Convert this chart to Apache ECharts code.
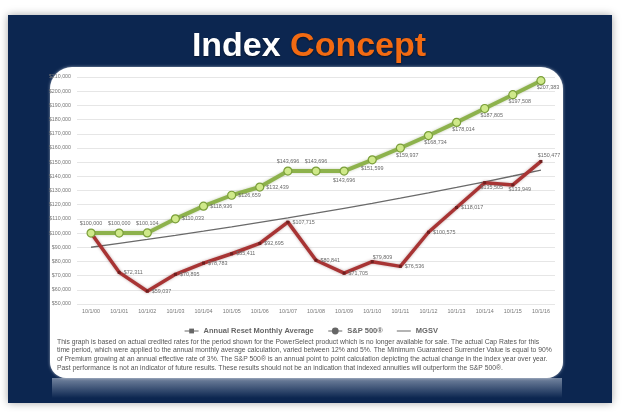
<!DOCTYPE html>
<html>
<head>
<meta charset="utf-8">
<script src="https://cdn.jsdelivr.net/npm/echarts@6/dist/echarts.min.js"></script>
<style>
html,body{margin:0;padding:0;background:#ffffff;}
#chart{width:622px;height:412px;}
</style>
</head>
<body>
<div id="chart"></div>
<script>
// ---- data ----
const categories = ['10/1/00','10/1/01','10/1/02','10/1/03','10/1/04','10/1/05','10/1/06','10/1/07','10/1/08','10/1/09','10/1/10','10/1/11','10/1/12','10/1/13','10/1/14','10/1/15','10/1/16'];
const annualReset = [100000, 72311, 59037, 70895, 78783, 85411, 92695, 107715, 80841, 71705, 79809, 76536, 100575, 118017, 135505, 133949, 150477];
const sp500 = [100000, 100000, 100104, 110033, 118936, 126659, 132439, 143696, 143696, 143696, 151599, 159937, 168734, 178014, 187805, 197508, 207383];
const mgsv = [90000, 92700, 95481, 98345, 101296, 104335, 107465, 110689, 114009, 117430, 120952, 124581, 128318, 132168, 136133, 140217, 144424];
const yMin = 50000, yMax = 210000, yStep = 10000;
const seriesNames = ['Annual Reset Monthly Average', 'S&P 500®', 'MGSV'];

// label placement keys (one per point)
const resetLabelPos = ['none','r','r','r','r','r','r','r','r','r','tr','r','r','r','br','br','tr2'];
const spLabelPos = ['t','t','t','r','r','r','r','t','t','b','b','br','br','br','br','br','br'];
const mgsvLabelPos = ['t','none','none','none','none','none','none','none','none','none','none','none','none','none','none','none','br'];

const titleLines = ['Index ', 'Concept'];
const footnote = [
  'This graph is based on actual credited rates for the period shown for the PowerSelect product which is no longer available for sale. The actual Cap Rates for this',
  'time period, which were applied to the annual monthly average calculation, varied between 12% and 5%. The Minimum Guaranteed Surrender Value is equal to 90%',
  'of Premium growing at an annual effective rate of 3%. The S&P 500® is an annual point to point calculation depicting the actual change in the index year over year.',
  'Past performance is not an indicator of future results. These results should not be an indication that indexed annuities will outperform the S&P 500®.'
];

// ---- helpers ----
const money = v => '$' + Math.round(v).toLocaleString('en-US');
function labelCfg(key, dist) {
  const base = {show: true, fontSize: 5.4, color: '#6a6a6a', fontFamily: 'Liberation Sans, Arial, sans-serif', distance: dist, formatter: p => money(p.value)};
  switch (key) {
    case 'none': return {show: false};
    case 't': return Object.assign(base, {position: 'top', distance: 2});
    case 'b': return Object.assign(base, {position: 'bottom', distance: 2});
    case 'r': return Object.assign(base, {position: 'right'});
    case 'tr': return Object.assign(base, {position: 'right', offset: [-4, -4]});
    case 'tr2': return Object.assign(base, {position: 'top', offset: [8, 1]});
    case 'br': return Object.assign(base, {position: 'bottom', offset: [7, -2]});
  }
}
const build = (vals, keys, dist) => vals.map((v, i) => ({value: v, label: labelCfg(keys[i], dist)}));

const chart = echarts.init(document.getElementById('chart'), null, {renderer: 'canvas'});
const font = 'Liberation Sans, Arial, sans-serif';

const graphics = [
  // navy panel
  {type: 'rect', z: -30, shape: {x: 8, y: 15, width: 604, height: 388},
   style: {fill: '#0c2650', shadowBlur: 8, shadowColor: 'rgba(0,0,0,0.35)'}},
  // reflection
  {type: 'rect', z: -25, shape: {x: 52, y: 378, width: 510, height: 20},
   style: {fill: {type: 'linear', x: 0, y: 0, x2: 0, y2: 1, colorStops: [
     {offset: 0, color: 'rgba(200,210,225,0.55)'}, {offset: 1, color: 'rgba(200,210,225,0)'}]}}},
  {type: 'text', z: -24, x: 57, y: 386, scaleY: -1, originY: 386,
   style: {text: footnote[3], fontSize: 6.9, fill: 'rgba(20,40,70,0.35)', fontFamily: font, verticalAlign: 'middle'}},
  // white panel
  {type: 'rect', z: -20, shape: {x: 50, y: 67, width: 513, height: 311, r: [22, 22, 16, 16]},
   style: {fill: '#ffffff', shadowBlur: 3, shadowColor: 'rgba(255,255,255,0.6)'}},
  // title
  {type: 'text', z: 10, x: 309, y: 47,
   style: {text: '{a|' + titleLines[0] + '}{b|' + titleLines[1] + '}', align: 'center', verticalAlign: 'middle',
     rich: {
       a: {fill: '#ffffff', fontSize: 34, fontWeight: 'bold', fontFamily: font, textShadowColor: 'rgba(0,0,0,0.5)', textShadowBlur: 2, textShadowOffsetY: 1},
       b: {fill: '#f26a12', fontSize: 34, fontWeight: 'bold', fontFamily: font, textShadowColor: 'rgba(0,0,0,0.5)', textShadowBlur: 2, textShadowOffsetY: 1}
     }}}
];
footnote.forEach((line, i) => {
  graphics.push({type: 'text', z: 10, x: 57, y: 342 + i * 8.6,
    style: {text: line, fontSize: 6.8, fill: '#555555', fontFamily: font, verticalAlign: 'middle'}});
});

const option = {
  animation: false,
  backgroundColor: 'transparent',
  graphic: graphics,
  grid: {left: 77, right: 67, top: 77, bottom: 108},
  legend: {
    top: 322, left: 'center', itemWidth: 14, itemHeight: 6, itemGap: 14,
    textStyle: {fontSize: 7.5, color: '#666', fontWeight: 'bold', fontFamily: font},
    data: [
      {name: seriesNames[0], itemStyle: {color: '#666'}, lineStyle: {color: '#666', width: 1}},
      {name: seriesNames[1], itemStyle: {color: '#666', borderColor: '#666'}, lineStyle: {color: '#666', width: 1}},
      {name: seriesNames[2], icon: 'path://M0,0 H20 V1.4 H0 Z', itemStyle: {color: '#666'}}
    ]
  },
  xAxis: {
    type: 'category', data: categories, boundaryGap: true,
    axisLine: {show: false}, axisTick: {show: false},
    axisLabel: {fontSize: 5.4, color: '#777', margin: 5, fontFamily: font}
  },
  yAxis: {
    type: 'value', min: yMin, max: yMax, interval: yStep,
    axisLine: {show: false}, axisTick: {show: false},
    axisLabel: {fontSize: 5.3, color: '#777', margin: 6, fontFamily: font, formatter: v => money(v)},
    splitLine: {lineStyle: {color: '#e6e6e6', width: 1}}
  },
  series: [
    {name: seriesNames[0], type: 'line', data: build(annualReset, resetLabelPos, 3),
     symbol: 'rect', symbolSize: 3, z: 3,
     itemStyle: {color: '#6e1f1f'},
     lineStyle: {color: '#a83434', width: 3.5, shadowColor: 'rgba(80,0,0,0.35)', shadowBlur: 3}},
    {name: seriesNames[1], type: 'line', data: build(sp500, spLabelPos, 2),
     symbol: 'circle', symbolSize: 8, z: 4,
     itemStyle: {color: '#cfe98a', borderColor: '#7a9e3a', borderWidth: 1.2},
     lineStyle: {color: '#8db24c', width: 4, shadowColor: 'rgba(60,90,0,0.3)', shadowBlur: 3}},
    {name: seriesNames[2], type: 'line', data: build(mgsv, mgsvLabelPos, 2),
     symbol: 'none', z: 2,
     itemStyle: {color: '#666'},
     lineStyle: {color: '#6a6a6a', width: 1.3}}
  ]
};
chart.setOption(option);
</script>
</body>
</html>
